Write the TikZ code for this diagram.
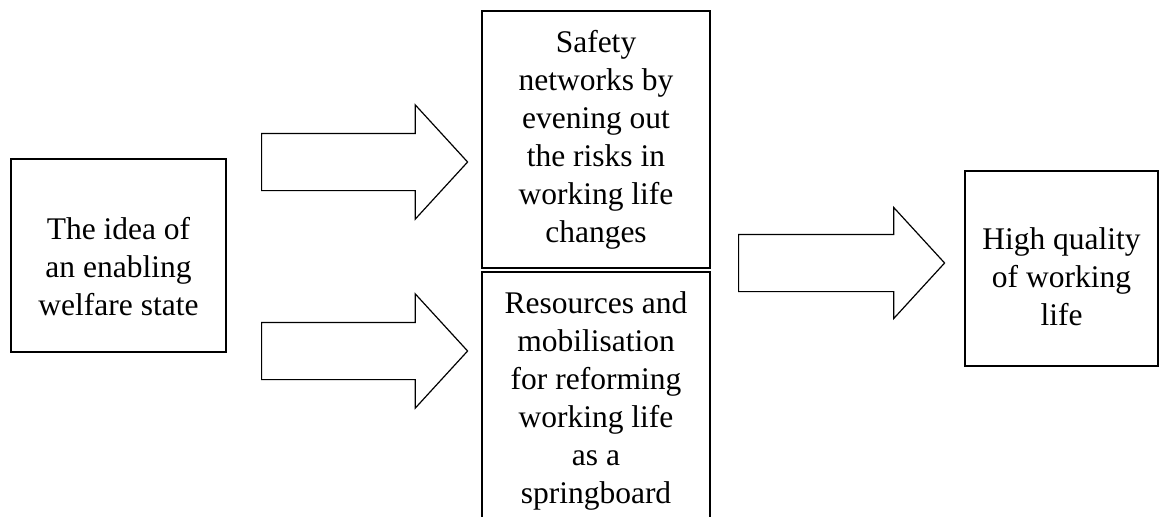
\documentclass[tikz,border=0pt]{standalone}
\usepackage{fontspec}
\setmainfont{Liberation Serif}
\usetikzlibrary{shapes.arrows}

\begin{document}
\begin{tikzpicture}[x=1pt, y=-1pt,
block/.style = {rectangle, draw=black, line width=1.2pt, align=center,
  inner sep=0pt, font=\fontsize{31.5}{38}\selectfont},
fatarrow/.style = {single arrow, draw=black, line width=1.2pt, inner xsep=0pt,
  inner ysep=28pt, minimum height=206pt, single arrow head extend=28.5pt,
  single arrow tip angle=95, anchor=tail}]
\useasboundingbox (0,0) rectangle (1160,517);
\clip (0,0) rectangle (1160,517);
\node[block, minimum width=215pt, minimum height=193pt] at (118.5,255.5) (idea)
  {\rule{0pt}{44pt}The idea of\\an enabling\\welfare state};
\node[block, minimum width=228pt, minimum height=257pt] at (596,139.5) (safety)
  {Safety\\networks by\\evening out\\the risks in\\working life\\changes};
\node[block, minimum width=228pt, minimum height=257pt] at (596,400.5) (resources)
  {Resources and\\mobilisation\\for reforming\\working life\\as a\\springboard};
\node[block, minimum width=193pt, minimum height=195pt] at (1061.5,268.5) (quality)
  {\rule{0pt}{38pt}High quality\\of working\\life};
\node[fatarrow] at (261,162) (a1) {};
\node[fatarrow] at (261,351) (a2) {};
\node[fatarrow, single arrow head extend=27pt] at (738,263) (a3) {};
\end{tikzpicture}
\end{document}
